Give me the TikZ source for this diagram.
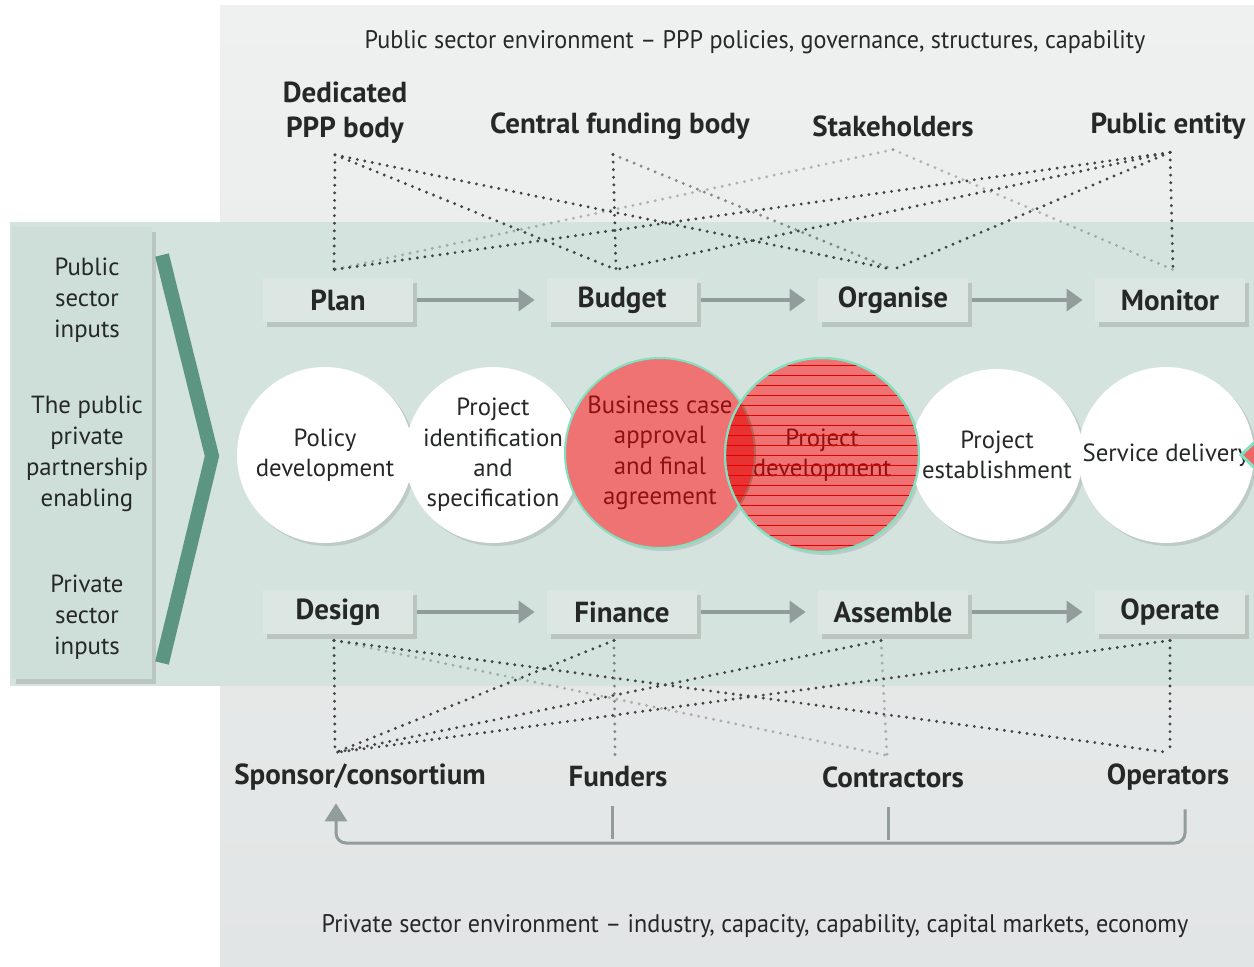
\documentclass[tikz,border=0pt]{standalone}
\usepackage{fontspec}
\setmainfont{PT Sans}
\newfontfamily\envfont[FakeStretch=0.95]{PT Sans}
\usetikzlibrary{arrows.meta,shadows,positioning}

\definecolor{panelgrey}{RGB}{226,229,229}
\definecolor{band}{RGB}{212,227,221}
\definecolor{sidefill}{RGB}{206,223,217}
\definecolor{boxfill}{RGB}{220,230,226}
\definecolor{chevron}{RGB}{92,150,130}
\definecolor{ink}{RGB}{38,40,40}
\definecolor{dotink}{RGB}{66,68,68}
\definecolor{flowgrey}{RGB}{146,156,154}
\definecolor{mint}{RGB}{128,226,192}
\definecolor{markred}{RGB}{228,0,0}

\tikzset{
  stage/.style={fill=boxfill, minimum width=75pt, minimum height=22pt,
    font=\bfseries\fontsize{14.5}{16}\selectfont, text=ink,
    drop shadow={shadow xshift=2pt,shadow yshift=-2.5pt,opacity=0.3}},
  phase/.style={circle, fill=white, inner sep=0pt,
    drop shadow={shadow xshift=1.5pt,shadow yshift=-1.5pt,opacity=0.25}},
  phasetext/.style={align=center, font=\fontsize{12.4}{15.2}\selectfont, text=ink},
  actor/.style={align=center, font=\bfseries\fontsize{14.5}{17.5}\selectfont, text=ink},
  sidetext/.style={align=center, font=\fontsize{12.4}{15.5}\selectfont, text=ink},
  envtext/.style={font=\envfont\fontsize{12.7}{14}\selectfont, text=ink},
  link/.style={draw=dotink, line width=1.6pt, line cap=round, dash pattern=on 0pt off 3.8pt},
  faint/.style={link, draw opacity=0.35},
  flow/.style={draw=flowgrey, line width=1.6pt, -{Triangle[length=8pt,width=11pt]},
    shorten <=2pt, shorten >=6pt},
  feedback/.style={draw=flowgrey, line width=1.5pt, rounded corners=5pt},
  redmark/.style={fill=markred, fill opacity=0.55, draw=mint, line width=1pt},
}

\begin{document}
\begin{tikzpicture}[x=0.5pt,y=-0.5pt]
\useasboundingbox (0,0) rectangle (1254,966);
% backdrop
\fill[white] (0,0) rectangle (1254,966);
\shade[top color=panelgrey!55!white, bottom color=panelgrey] (220,5) rectangle (1254,966);
\fill[band] (10,222) rectangle (1254,686);
\node[fill=sidefill, minimum width=70pt, minimum height=226pt,
  drop shadow={shadow xshift=2pt,shadow yshift=-2.5pt,opacity=0.3}] (side) at (82,453) {};
\draw[chevron, line width=7pt, line join=miter] (162,255) -- (212,456) -- (162,663);

% side texts
\node[sidetext] (pubin) at (87,300) {Public\\sector\\inputs};
\node[sidetext] (enabling) at (87,454) {The public\\private\\partnership\\enabling};
\node[sidetext] (privin) at (87,617) {Private\\sector\\inputs};

% environment texts
\node[envtext] (pubenv) at (755,42) {Public sector environment – PPP policies, governance, structures, capability};
\node[envtext] (privenv) at (755,926) {Private sector environment – industry, capacity, capability, capital markets, economy};

% public actors
\node[actor] (ded) at (345,113) {Dedicated\\PPP body};
\node[actor] (central) at (620,126) {Central funding body};
\node[actor] (stake) at (893,126) {Stakeholders};
\node[actor] (pubent) at (1168,126) {Public entity};

% private actors
\node[actor] (sponsor) at (360,777) {Sponsor/consortium};
\node[actor] (funders) at (618,777) {Funders};
\node[actor] (contract) at (893,777) {Contractors};
\node[actor] (operators) at (1168,777) {Operators};

% stages
\foreach \name/\txt/\x in {plan/Plan/338, budget/Budget/622, organise/Organise/893, monitor/Monitor/1170}
  \node[stage] (\name) at (\x,300) {\txt};
\foreach \name/\txt/\x in {design/Design/338, finance/Finance/622, assemble/Assemble/893, operate/Operate/1170}
  \node[stage] (\name) at (\x,612) {\txt};
\foreach \a/\b in {plan/budget, budget/organise, organise/monitor, design/finance, finance/assemble, assemble/operate}
  \draw[flow] (\a) -- (\b);

% phases
\node[phase, minimum size=88pt] (policy) at (325,455) {};
\node[phase, minimum size=88pt] (ident) at (493,455) {};
\node[phase, minimum size=95pt] (bizcase) at (660,453) {};
\node[phase, minimum size=97pt] (projdev) at (822,455) {};
\node[phase, minimum size=86pt] (estab) at (997,455) {};
\node[phase, minimum size=88pt] (service) at (1166,455) {};
\node[phasetext] (policytext) at (policy) {Policy\\development};
\node[phasetext] (identtext) at (ident) {Project\\identification\\and\\specification};
\node[phasetext] (biztext) at (bizcase) {Business case\\approval\\and final\\agreement};
\node[phasetext] (devtext) at (projdev) {Project\\development};
\node[phasetext] (estabtext) at (estab) {Project\\establishment};
\node[phasetext] (servicetext) at (service) {Service delivery};

% anchor points for dotted links
\coordinate (dedfoot) at ([xshift=-5pt,yshift=-2pt]ded.south);
\coordinate (centralfoot) at ([xshift=-3.5pt,yshift=-4pt]central.south);
\coordinate (stakefoot) at ([yshift=-3pt]stake.south);
\coordinate (pubentfoot) at ([xshift=1pt,yshift=-3pt]pubent.south);
\foreach \name/\dx in {plan/-2, budget/-3, organise/0, monitor/1.5}
  \coordinate (\name-head) at ([xshift=\dx pt,yshift=4pt]\name.north);
\foreach \name/\dx in {design/-2, finance/-4, assemble/-6, operate/0}
  \coordinate (\name-foot) at ([xshift=\dx pt,yshift=-3pt]\name.south);
\coordinate (sponsorhead) at ([xshift=-12.5pt,yshift=2pt]sponsor.north);
\coordinate (fundershead) at ([xshift=-1.5pt,yshift=2pt]funders.north);
\coordinate (contracthead) at ([xshift=-3pt,yshift=2pt]contract.north);
\coordinate (operatorshead) at ([xshift=1pt,yshift=2pt]operators.north);

% public links
\draw[link] (dedfoot) -- (plan-head);
\draw[link] (dedfoot) -- (budget-head);
\draw[link] (dedfoot) -- (organise-head);
\draw[link] (centralfoot) -- (budget-head);
\draw[link, draw opacity=0.6] (centralfoot) -- (organise-head);
\draw[faint] (stakefoot) -- (plan-head);
\draw[faint] (stakefoot) -- (monitor-head);
\draw[link] (pubentfoot) -- (monitor-head);
\draw[link] (pubentfoot) -- (plan-head);
\draw[link] (pubentfoot) -- (budget-head);
\draw[link] (pubentfoot) -- (organise-head);

% private links
\draw[link] (design-foot) -- (sponsorhead);
\draw[link] (finance-foot) -- (sponsorhead);
\draw[link] (assemble-foot) -- (sponsorhead);
\draw[link] (operate-foot) -- (sponsorhead);
\draw[link, draw opacity=0.6] (finance-foot) -- (fundershead);
\draw[faint] (assemble-foot) -- (contracthead);
\draw[faint] (design-foot) -- (contracthead);
\draw[link] (design-foot) -- (operatorshead);
\draw[link] (operate-foot) -- (operatorshead);

% feedback to sponsor
\coordinate (rail) at (0,843);
\coordinate (sponsorfoot) at ([xshift=-12pt,yshift=-3pt]sponsor.south);
\draw[feedback, -{Triangle[length=9pt,width=11pt]}]
  ([xshift=8.5pt,yshift=-6pt]operators.south) |- (rail -| sponsorfoot) -- (sponsorfoot);
\draw[feedback] ([xshift=-3pt,yshift=-6pt]funders.south) -- ++(0,33);
\draw[feedback] ([xshift=-2.5pt,yshift=-6pt]contract.south) -- ++(0,33);

% red marks
\fill[redmark] (bizcase.center) circle[radius=47.5pt];
\fill[redmark] (projdev.center) circle[radius=48.5pt];
\begin{scope}
  \clip (projdev.center) circle[radius=48pt];
  \foreach \k in {-9,...,9}
    \draw[markred, line width=0.5pt] ([yshift=\k*5pt]projdev.west) -- ([yshift=\k*5pt]projdev.east);
\end{scope}
\draw[mint, line width=1pt] (projdev.center) circle[radius=48.5pt];
\fill[markred!60!white, draw=mint, line width=1.5pt] (1241,455) -- (1256,441) -- (1271,455) -- (1256,469) -- cycle;
\end{tikzpicture}
\end{document}
